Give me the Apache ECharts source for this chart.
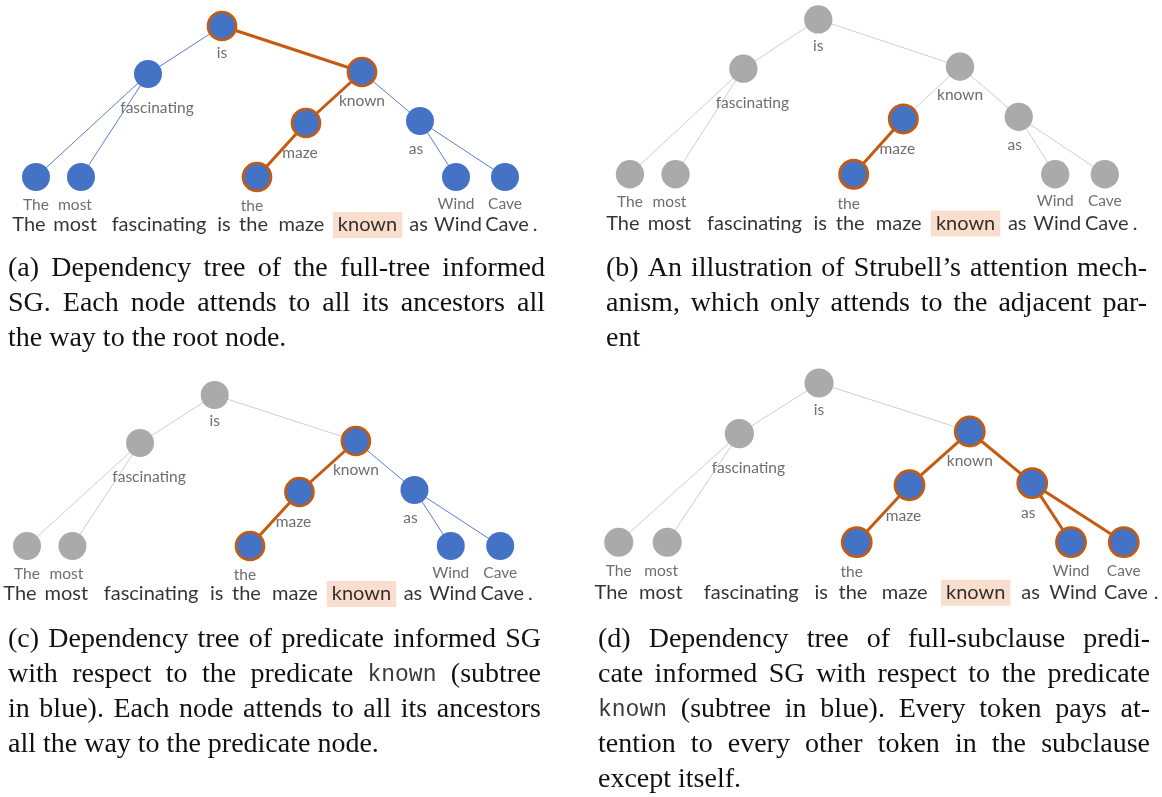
<!DOCTYPE html>
<html>
<head>
<meta charset="utf-8">
<script src="https://cdn.jsdelivr.net/npm/echarts@6/dist/echarts.min.js"></script>
<style>
  html, body { margin: 0; padding: 0; background: #fff; }
  #chart { width: 1162px; height: 797px; }
</style>
</head>
<body>
<div id="chart"></div>
<script>
// tree: one node per token
const WORDS = ['The', 'most', 'fascinating', 'is', 'the', 'maze', 'known', 'as', 'Wind', 'Cave']
const NODE_X = [0, 45, 112, 186, 221, 270, 326, 384, 420, 469]
const NODE_Y = [0, 0, 103, 151, 0, 54, 105, 56, 0, 0]
const HEADS = [2, 2, 3, -1, 5, 6, 3, 6, 7, 7]

// sentence under each tree
const SENTENCE = ['The', 'most', 'fascinating', 'is', 'the', 'maze', 'known', 'as', 'Wind', 'Cave', '.']
const SENTENCE_X = [-7, 39, 123, 188, 217.5, 265.5, 331.5, 382.5, 422, 471, 499]
const SENTENCE_Y = -48
const PREDICATE = 'known'

// which nodes are blue / on the orange attention path
const BLUE_A = WORDS.slice()
const PATH_A = ['is', 'known', 'maze', 'the']
const BLUE_B = ['maze', 'the']
const PATH_B = ['maze', 'the']
const BLUE_C = ['known', 'maze', 'the', 'as', 'Wind', 'Cave']
const PATH_C = ['known', 'maze', 'the']
const BLUE_D = ['known', 'maze', 'the', 'as', 'Wind', 'Cave']
const PATH_D = ['known', 'maze', 'the', 'as', 'Wind', 'Cave']

// captions (` marks a typewriter word)
const CAPTION_A = [
  '(a) Dependency tree of the full-tree informed',
  'SG. Each node attends to all its ancestors all',
  'the way to the root node.'
]
const CAPTION_B = [
  '(b) An illustration of Strubell\u2019s attention mech-',
  'anism, which only attends to the adjacent par-',
  'ent'
]
const CAPTION_C = [
  '(c) Dependency tree of predicate informed SG',
  'with respect to the predicate `known (subtree',
  'in blue). Each node attends to all its ancestors',
  'all the way to the predicate node.'
]
const CAPTION_D = [
  '(d) Dependency tree of full-subclause predi-',
  'cate informed SG with respect to the predicate',
  '`known (subtree in blue). Every token pays at-',
  'tention to every other token in the subclause',
  'except itself.'
]

const BLUE = '#4472c4'
const GRAY = '#aaaaaa'
const ORANGE = '#c55a11'
const HIGHLIGHT = '#f8d6c0'
const SERIF = '28px "Liberation Serif"'
const MONO = '23px "Liberation Mono"'
const LINE_H = 35
const LABEL_NUDGE = [[0, 2], [-6, 2], [9, 8], [0, 0], [-5, 2], [-6, 3], [0, 2], [-4, 2], [0, 1], [0, 1]]

const panels = [
  { blue: BLUE_A, path: PATH_A, grid: { left: 0, top: 7, width: 560, height: 240 }, scale: 1,
    caption: CAPTION_A, capX: 8, capY: 269, capW: 537 },
  { blue: BLUE_B, path: PATH_B, grid: { left: 593.5, top: 0, width: 567, height: 246 }, scale: 1.01,
    caption: CAPTION_B, capX: 606, capY: 269, capW: 541 },
  { blue: BLUE_C, path: PATH_C, grid: { left: -9.3, top: 376, width: 565, height: 240 }, scale: 1,
    caption: CAPTION_C, capX: 8, capY: 640, capW: 533 },
  { blue: BLUE_D, path: PATH_D, grid: { left: 580, top: 363, width: 603, height: 253 }, scale: 1.04,
    caption: CAPTION_D, capX: 598, capY: 640, capW: 552 }
]

const measureCtx = document.createElement('canvas').getContext('2d')
const textWidth = (s, font) => {
  measureCtx.font = font
  return measureCtx.measureText(s).width
}

// justified caption lines, last line left aligned
const captionElements = (lines, x0, y0, width) => {
  const els = []
  lines.forEach((line, li) => {
    const last = li === lines.length - 1
    const tokens = line.split(' ').map(t => t.startsWith('`')
      ? { text: t.slice(1), font: MONO, fill: '#3a3a3a' }
      : { text: t, font: SERIF, fill: '#111' })
    const widths = tokens.map(t => textWidth(t.text, t.font))
    const total = widths.reduce((a, b) => a + b, 0)
    const gap = last ? textWidth(' ', SERIF) : (width - total) / (tokens.length - 1)
    let x = x0
    tokens.forEach((t, k) => {
      els.push({
        type: 'text', x: x, y: y0 + li * LINE_H, silent: true,
        style: { text: t.text, font: t.font, fill: t.fill, textAlign: 'left', textVerticalAlign: 'middle' }
      })
      x += widths[k] + gap
    })
  })
  return els
}

const treeSeries = (p, i) => {
  const blue = new Set(p.blue)
  const path = new Set(p.path)
  const data = WORDS.map((w, k) => ({
    name: w,
    value: [NODE_X[k], NODE_Y[k]],
    symbolSize: 28 * p.scale,
    itemStyle: {
      color: blue.has(w) ? BLUE : GRAY,
      borderColor: ORANGE,
      borderWidth: path.has(w) ? 2.7 : 0
    },
    label: { offset: LABEL_NUDGE[k] }
  }))
  const links = []
  HEADS.forEach((h, k) => {
    if (h < 0) return
    const a = WORDS[k]
    const b = WORDS[h]
    let lineStyle
    if (path.has(a) && path.has(b)) lineStyle = { color: ORANGE, width: 3 }
    else if (blue.has(a) && blue.has(b)) lineStyle = { color: BLUE, width: 0.9 }
    else lineStyle = { color: '#c8c8c8', width: 0.9 }
    links.push({ source: h, target: k, lineStyle: lineStyle })
  })
  return {
    type: 'graph',
    coordinateSystem: 'cartesian2d',
    xAxisIndex: i,
    yAxisIndex: i,
    silent: true,
    data: data,
    links: links,
    lineStyle: { opacity: 1, curveness: 0 },
    label: {
      show: true, position: 'bottom', distance: 4,
      color: '#6e6e6e', fontFamily: 'Lato', fontSize: 15.5
    },
    emphasis: { disabled: true }
  }
}

const sentenceSeries = (p, i) => ({
  type: 'scatter',
  xAxisIndex: i,
  yAxisIndex: i,
  silent: true,
  symbolSize: 1,
  itemStyle: { color: 'rgba(0,0,0,0)' },
  data: SENTENCE.map((w, k) => ({
    value: [SENTENCE_X[k], SENTENCE_Y],
    label: w === PREDICATE ? { backgroundColor: HIGHLIGHT, padding: [3, 5] } : {}
  })),
  label: {
    show: true, position: 'inside',
    formatter: d => SENTENCE[d.dataIndex],
    color: '#000', fontFamily: 'Lato', fontSize: 20
  }
})

const chart = echarts.init(document.getElementById('chart'))
chart.setOption({
  animation: false,
  backgroundColor: '#fff',
  grid: panels.map(p => Object.assign({ containLabel: false, outerBoundsMode: 'none' }, p.grid)),
  xAxis: panels.map((p, i) => ({ type: 'value', gridIndex: i, min: -36, max: 524, show: false })),
  yAxis: panels.map((p, i) => ({ type: 'value', gridIndex: i, min: -70, max: 170, show: false })),
  series: panels.map(treeSeries).concat(panels.map(sentenceSeries)),
  graphic: panels.map(p => captionElements(p.caption, p.capX, p.capY, p.capW)).flat()
})
</script>
</body>
</html>
